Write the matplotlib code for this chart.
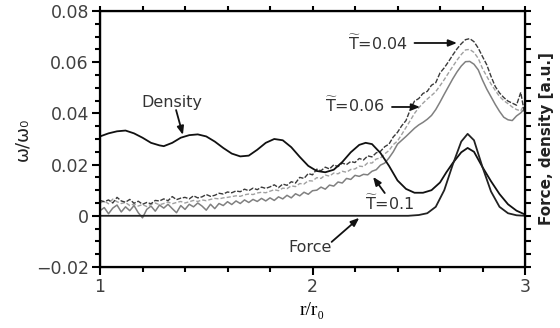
import numpy as np
import matplotlib
matplotlib.use("Agg")
from matplotlib import pyplot as plt
from matplotlib.ticker import MultipleLocator, FuncFormatter

plt.rcParams['mathtext.fontset'] = 'dejavusans'

# r/r0 sampling of the noisy spectra
r_grid = np.linspace(1.0, 3.0, 101)

t004 = [0.0060, 0.0055, 0.0062, 0.0050, 0.0072, 0.0058, 0.0053, 0.0064, 0.0049, 0.0057,
        0.0045, 0.0052, 0.0047, 0.0060, 0.0058, 0.0066, 0.0059, 0.0075, 0.0063, 0.0069,
        0.0072, 0.0066, 0.0078, 0.0070, 0.0074, 0.0083, 0.0076, 0.0080, 0.0088, 0.0085,
        0.0093, 0.0090, 0.0097, 0.0094, 0.0104, 0.0098, 0.0108, 0.0102, 0.0112, 0.0107,
        0.0113, 0.0121, 0.0110, 0.0124, 0.0119, 0.0133, 0.0128, 0.0150, 0.0146, 0.0165,
        0.0160, 0.0182, 0.0176, 0.0190, 0.0183, 0.0199, 0.0192, 0.0206, 0.0200, 0.0212,
        0.0208, 0.0224, 0.0218, 0.0234, 0.0230, 0.0246, 0.0252, 0.0270, 0.0280, 0.0308,
        0.0326, 0.0352, 0.0372, 0.0415, 0.0448, 0.0458, 0.0478, 0.0486, 0.0510, 0.0520,
        0.0558, 0.0578, 0.0602, 0.0628, 0.0652, 0.0672, 0.0688, 0.0692, 0.0680, 0.0655,
        0.0622, 0.0590, 0.0545, 0.0505, 0.0480, 0.0462, 0.0448, 0.0440, 0.0432, 0.0482,
        0.0390]

t006 = [0.0050, 0.0058, 0.0047, 0.0065, 0.0055, 0.0048, 0.0052, 0.0040, 0.0046, 0.0038,
        0.0044, 0.0036, 0.0045, 0.0050, 0.0043, 0.0048, 0.0054, 0.0047, 0.0052, 0.0056,
        0.0050, 0.0055, 0.0060, 0.0056, 0.0062, 0.0059, 0.0064, 0.0068, 0.0066, 0.0070,
        0.0072, 0.0075, 0.0078, 0.0076, 0.0082, 0.0085, 0.0083, 0.0089, 0.0092, 0.0090,
        0.0096, 0.0102, 0.0098, 0.0108, 0.0106, 0.0117, 0.0114, 0.0126, 0.0124, 0.0137,
        0.0136, 0.0149, 0.0146, 0.0159, 0.0155, 0.0167, 0.0164, 0.0174, 0.0170, 0.0181,
        0.0183, 0.0194, 0.0192, 0.0207, 0.0206, 0.0222, 0.0226, 0.0242, 0.0255, 0.0278,
        0.0292, 0.0318, 0.0345, 0.0372, 0.0400, 0.0422, 0.0440, 0.0456, 0.0470, 0.0485,
        0.0508, 0.0532, 0.0558, 0.0583, 0.0608, 0.0630, 0.0648, 0.0650, 0.0638, 0.0615,
        0.0575, 0.0545, 0.0515, 0.0490, 0.0466, 0.0450, 0.0438, 0.0425, 0.0415, 0.0410,
        0.0440]

t01 = [0.0020, 0.0032, 0.0008, 0.0030, 0.0042, 0.0015, 0.0035, 0.0020, 0.0040, 0.0012,
       -0.0008, 0.0025, 0.0038, 0.0018, 0.0042, 0.0030, 0.0045, 0.0028, 0.0012, 0.0040,
       0.0025, 0.0045, 0.0035, 0.0050, 0.0038, 0.0022, 0.0045, 0.0028, 0.0048, 0.0040,
       0.0055, 0.0044, 0.0058, 0.0048, 0.0062, 0.0052, 0.0064, 0.0056, 0.0068, 0.0058,
       0.0070, 0.0060, 0.0074, 0.0066, 0.0080, 0.0070, 0.0086, 0.0078, 0.0092, 0.0084,
       0.0098, 0.0100, 0.0112, 0.0104, 0.0120, 0.0116, 0.0132, 0.0128, 0.0146, 0.0142,
       0.0158, 0.0154, 0.0162, 0.0160, 0.0174, 0.0180, 0.0198, 0.0206, 0.0226, 0.0250,
       0.0280, 0.0295, 0.0310, 0.0326, 0.0342, 0.0355, 0.0365, 0.0377, 0.0392, 0.0415,
       0.0444, 0.0475, 0.0505, 0.0535, 0.0562, 0.0585, 0.0602, 0.0603, 0.0592, 0.0570,
       0.0530, 0.0495, 0.0465, 0.0435, 0.0408, 0.0385, 0.0375, 0.0372, 0.0390, 0.0402,
       0.0420]

dens_r = [1.00, 1.04, 1.08, 1.12, 1.16, 1.20, 1.24, 1.28, 1.30, 1.34, 1.38, 1.42, 1.46,
          1.50, 1.54, 1.58, 1.62, 1.66, 1.70, 1.74, 1.78, 1.82, 1.86, 1.90, 1.94, 1.98,
          2.02, 2.06, 2.10, 2.14, 2.18, 2.22, 2.25, 2.28, 2.32, 2.36, 2.40, 2.44, 2.48,
          2.52, 2.56, 2.60, 2.63, 2.66, 2.70, 2.73, 2.76, 2.80, 2.84, 2.88, 2.92, 2.96, 3.00]
dens = [0.0310, 0.0322, 0.0330, 0.0333, 0.0322, 0.0305, 0.0285, 0.0275, 0.0272, 0.0285,
        0.0305, 0.0315, 0.0318, 0.0310, 0.0290, 0.0265, 0.0243, 0.0232, 0.0235, 0.0258,
        0.0285, 0.0300, 0.0295, 0.0268, 0.0230, 0.0195, 0.0175, 0.0170, 0.0180, 0.0210,
        0.0248, 0.0277, 0.0285, 0.0280, 0.0245, 0.0195, 0.0138, 0.0105, 0.0090, 0.0090,
        0.0100, 0.0130, 0.0170, 0.0206, 0.0248, 0.0265, 0.0250, 0.0190, 0.0135, 0.0085,
        0.0045, 0.0020, 0.0005]

force_r = [1.00, 2.45, 2.50, 2.54, 2.58, 2.62, 2.66, 2.70, 2.73, 2.76, 2.80, 2.84, 2.88,
           2.92, 2.96, 3.00]
force = [0.0, 0.0, 0.0003, 0.0010, 0.0035, 0.0100, 0.0200, 0.0290, 0.0320, 0.0295,
         0.0190, 0.0095, 0.0035, 0.0010, 0.0002, 0.0]

fig = plt.figure(figsize=(5.6, 3.28), dpi=100)
ax = fig.add_axes([0.1786, 0.186, 0.7589, 0.7805])

ax.plot(r_grid, t01, color='#808080', lw=1.1)
ax.plot(r_grid, t006, color='#a0a0a0', lw=1.0, ls=(0, (3, 1.5)))
ax.plot(r_grid, t004, color='#3a3a3a', lw=1.0, ls=(0, (3.5, 1.2)))
ax.plot(dens_r, dens, color='#111111', lw=1.3)
ax.plot(force_r, force, color='#222222', lw=1.3)

ax.set_xlim(1, 3)
ax.set_ylim(-0.02, 0.08)
ax.xaxis.set_major_locator(MultipleLocator(1))
ax.xaxis.set_minor_locator(MultipleLocator(0.2))
ax.yaxis.set_major_locator(MultipleLocator(0.02))
ax.yaxis.set_minor_locator(MultipleLocator(0.005))


def yfmt(v, pos):
    if abs(v) < 1e-9:
        return '0'
    return ('%.2f' % v).replace('-', '\u2212')


ax.yaxis.set_major_formatter(FuncFormatter(yfmt))
ax.xaxis.set_major_formatter(FuncFormatter(lambda v, p: '%d' % round(v)))
ax.tick_params(which='major', direction='out', length=6, width=1.5,
               labelsize=12.5, labelcolor='#404040', pad=2)
ax.tick_params(which='minor', direction='out', length=3.5, width=1.5)
for s in ax.spines.values():
    s.set_linewidth(1.6)

ax.set_xlabel('r/r\u2080', family='Liberation Serif', fontsize=14, labelpad=4)
ax.set_ylabel('\u03c9/\u03c9\u2080', fontsize=13, color='#222222', labelpad=3)

# right and top tick rows
ax2 = ax.twinx()
ax2.set_ylim(-0.02, 0.08)
ax2.yaxis.set_major_locator(MultipleLocator(0.005))
ax2.tick_params(direction='out', length=4, width=1.5, labelright=False)
ax2.set_ylabel('Force, density [a.u.]', fontsize=11, fontweight='bold',
               color='#222222', labelpad=6)
ax3 = ax.twiny()
ax3.set_xlim(1, 3)
ax3.xaxis.set_major_locator(MultipleLocator(0.2))
ax3.tick_params(direction='out', length=3.5, width=1.5, labeltop=False)

tc = '#333333'
fs = 11.5
ax.text(1.339, 0.0425, 'Density', ha='center', va='baseline', fontsize=fs, color=tc)
ax.text(2.306, 0.0648, r'$\widetilde{\mathrm{T}}$=0.04', ha='center', va='baseline',
        fontsize=fs, color=tc)
ax.text(2.20, 0.0405, r'$\widetilde{\mathrm{T}}$=0.06', ha='center', va='baseline',
        fontsize=fs, color=tc)
ax.text(2.365, 0.0023, r'$\widetilde{\mathrm{T}}$=0.1', ha='center', va='baseline',
        fontsize=fs, color=tc)
ax.text(1.99, -0.0141, 'Force', ha='center', va='baseline', fontsize=fs, color=tc)

arrows = [((1.358, 0.0413), (1.39, 0.0316)),
          ((2.48, 0.0675), (2.68, 0.0675)),
          ((2.374, 0.0425), (2.506, 0.0425)),
          ((2.34, 0.0089), (2.285, 0.0152)),
          ((2.09, -0.0102), (2.22, -0.0008))]
for start, tip in arrows:
    ax.annotate('', xy=tip, xytext=start,
                arrowprops=dict(arrowstyle='-|>,head_length=0.5,head_width=0.2',
                                color='#111111', lw=1.3, shrinkA=0, shrinkB=0))

fig.savefig('out.png', dpi=100)
